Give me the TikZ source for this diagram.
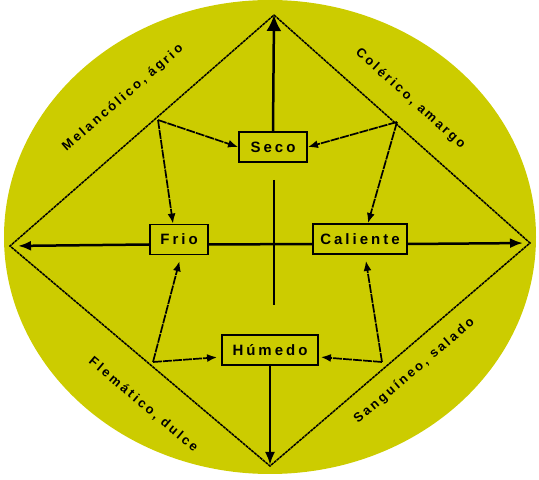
\documentclass[tikz,border=0pt]{standalone}
\usepackage{fontspec}
\setmainfont{Liberation Sans}
\newfontfamily\spacedfont[LetterSpace=20]{Liberation Sans}
\usetikzlibrary{arrows.meta,calc}
\definecolor{bg}{RGB}{204,204,0}
\tikzset{
  box/.style={draw=black, line width=1.9pt, fill=bg, minimum height=30pt, inner sep=0pt,
    font=\spacedfont\bfseries\fontsize{15}{17}\selectfont},
  diam/.style={draw=black, line width=1.5pt, dash pattern=on 3pt off 0.7pt},
  cross/.style={draw=black, line width=2.5pt},
  bigtip/.style={-{Latex[length=13pt,width=10pt]}},
  feed/.style={draw=black, line width=1.7pt, dash pattern=on 9pt off 1pt, -{Latex[length=10pt,width=8pt]}},
  lbl/.style={font=\spacedfont\bfseries\fontsize{13}{15}\selectfont, inner sep=0pt}
}
\begin{document}
\begin{tikzpicture}[x=1pt,y=1pt]
\useasboundingbox (0,0) rectangle (539,480);
\fill[bg] (270,243) ellipse [x radius=266pt, y radius=237pt];
% diamond corners
\coordinate (T) at (274,465);
\coordinate (L) at (10,234);
\coordinate (R) at (530,237);
\coordinate (B) at (270,14);
% points on the diamond sides
\coordinate (UL) at (158,360);
\coordinate (UR) at (397,358);
\coordinate (LL) at (153,118);
\coordinate (LR) at (382,118);
% central cross ends
\coordinate (c1) at (274,300);
\coordinate (c2) at (274,175);
\draw[diam] (T) -- (R) -- (B) -- (L) -- cycle;
% boxes
\node[box, minimum width=68pt] (seco) at (273,333) {Seco};
\node[box, minimum width=58pt] (frio) at (179,240.5) {Frio};
\node[box, minimum width=94pt] (cal) at (360,241) {Caliente};
\node[box, minimum width=96pt] (hum) at (270,130) {Húmedo};
% cross
\draw[cross, -{Latex[length=16pt,width=15pt]}] (seco.north) -- (T);
\draw[cross, bigtip, shorten >=8pt] ([yshift=-5pt]frio.west) -- (L);
\draw[cross] ([yshift=-5pt]frio.east) -- ([yshift=-5pt]cal.west);
\draw[cross, bigtip, shorten >=7pt] ([yshift=-5pt]cal.east) -- (R);
\draw[cross, bigtip, shorten >=1pt] (hum.south) -- (B);
\draw[cross] (c1) -- (c2);
% feed arrows
\draw[feed] (UL) -- (seco.west);
\draw[feed] (UL) -- ([xshift=-6pt]frio.north);
\draw[feed] (UR) -- (seco.east);
\draw[feed] (UR) -- ([xshift=8pt]cal.north);
\draw[feed, shorten >=6pt] (LL) -- ([xshift=2pt]frio.south);
\draw[feed, shorten >=4pt] (LL) -- ([yshift=-7pt]hum.west);
\draw[feed, shorten >=2pt] (LR) -- ([yshift=-7pt]hum.east);
\draw[feed, shorten >=6pt] (LR) -- ([xshift=5pt]cal.south);
% labels
\node[lbl, rotate=41] (mel) at ($(L)!.52!(T)!37pt!90:(T)$) {Melancólico, ágrio};
\node[lbl, rotate=-42] (col) at ($(T)!.46!(R)!28pt!90:(R)$) {Colérico, amargo};
\node[lbl, rotate=-40.2] (fle) at ($(L)!.60!(B)!35pt!-90:(B)$) {Flemático, dulce};
\node[lbl, rotate=40.6] (san) at ($(B)!.50!(R)!22pt!-90:(R)$) {Sanguíneo, salado};
\end{tikzpicture}
\end{document}
